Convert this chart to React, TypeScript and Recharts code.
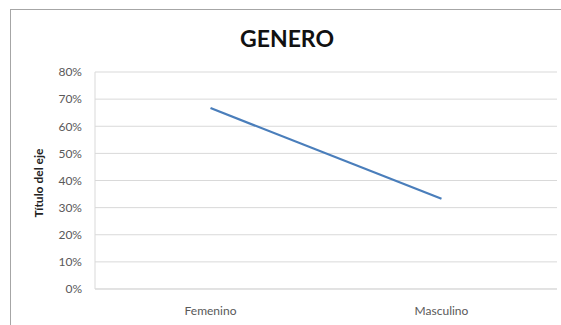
import { LineChart, Line, XAxis, YAxis, CartesianGrid } from 'recharts';

const categories = ['Femenino', 'Masculino'];
const values = [0.667, 0.333];
const yTicks = [0, 0.1, 0.2, 0.3, 0.4, 0.5, 0.6, 0.7, 0.8];

const data = categories.map((name, i) => ({ name, value: values[i] }));

const font = 'Lato, "Open Sans", sans-serif';

export default function App() {
  return (
    <div style={{ position: 'absolute', left: 0, top: 0, width: 561, height: 325, background: '#fff', overflow: 'hidden', fontFamily: font }}>
      {/* chart frame */}
      <div style={{ position: 'absolute', left: 10, top: 9, width: 560, height: 330, border: '1px solid #a6a6a6', boxSizing: 'border-box' }} />
      <div style={{ position: 'absolute', left: 0, top: 23, width: 574, textAlign: 'center', fontSize: 23, fontWeight: 700, color: '#111', lineHeight: '30px' }}>
        GENERO
      </div>
      <div style={{ position: 'absolute', left: 38, top: 183, transform: 'translate(-50%, -50%) rotate(-90deg)', whiteSpace: 'nowrap', fontSize: 12, fontWeight: 700, color: '#222' }}>
        Título del eje
      </div>
      <LineChart
        width={561}
        height={325}
        data={data}
        margin={{ top: 72, right: 4, bottom: 6, left: 35 }}
        style={{ position: 'absolute', left: 0, top: 0 }}
      >
        <CartesianGrid vertical={false} stroke="#d9d9d9" />
        <XAxis
          dataKey="name"
          scale="band"
          height={30}
          axisLine={{ stroke: '#d9d9d9' }}
          tickLine={false}
          tick={{ fill: '#595959', fontSize: 12, fontFamily: font }}
          dy={9}
        />
        <YAxis
          width={60}
          domain={[0, 0.8]}
          ticks={yTicks}
          interval={0}
          axisLine={{ stroke: '#d9d9d9' }}
          tickLine={false}
          tickFormatter={(v: number) => `${Math.round(v * 100)}%`}
          tick={{ fill: '#595959', fontSize: 12, fontFamily: font }}
          dx={-5}
        />
        <Line
          type="linear"
          dataKey="value"
          stroke="#4a7ebb"
          strokeWidth={2.25}
          dot={false}
          isAnimationActive={false}
        />
      </LineChart>
    </div>
  );
}
